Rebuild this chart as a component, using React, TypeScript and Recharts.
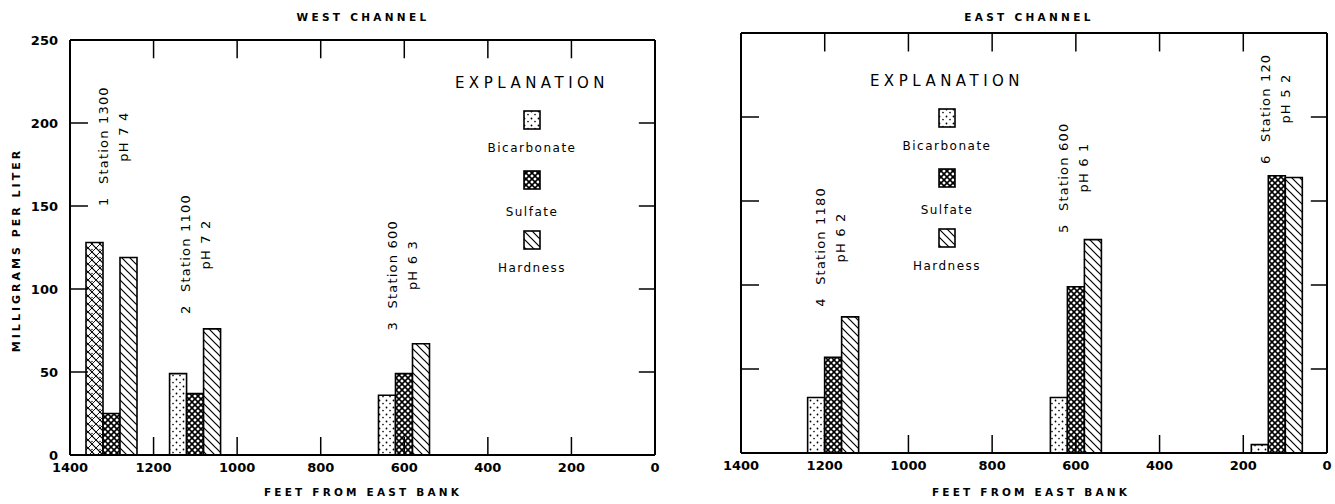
import React from "react";
import { BarChart, Bar, XAxis, YAxis, Cell, Legend, ReferenceDot, ReferenceLine } from "recharts";

// West channel samples (feet from east bank, mg/L)
const westStations = [1300, 1100, 600];
const westNumbers = ["1", "2", "3"];
const westPh = ["7 4", "7 2", "6 3"];
const westBicarbonate = [128, 49, 36];
const westSulfate = [25, 37, 49];
const westHardness = [119, 76, 67];

// East channel samples
const eastStations = [1180, 600, 120];
const eastNumbers = ["4", "5", "6"];
const eastPh = ["6 2", "6 1", "5 2"];
const eastBicarbonate = [33, 33, 5];
const eastSulfate = [57, 99, 165];
const eastHardness = [81, 127, 164];

const feetTicks = [1400, 1200, 1000, 800, 600, 400, 200, 0];
const mgTicks = [0, 50, 100, 150, 200, 250];
const innerFeetTicks = [1200, 1000, 800, 600, 400, 200];
const innerMgTicks = [50, 100, 150, 200];

// where the rotated station notes start (feet, mg/L)
const westNoteAt = [[1309, 150], [1113, 85], [617, 75]];
const eastNoteAt = [[1199, 87], [619, 131], [136, 172]];

// inward tick lengths in data units (~18px)
const TICK_FT = 43;
const TICK_MG = 11;

const FONT = "'DejaVu Sans', 'Liberation Sans', sans-serif";

const series = [
    { key: "bicarbonate", label: "Bicarbonate", pattern: "dots" },
    { key: "sulfate", label: "Sulfate", pattern: "cross" },
    { key: "hardness", label: "Hardness", pattern: "hatch" },
];

function Patterns({ id }: { id: string }) {
    return (
        <defs>
            <pattern id={`${id}-dots`} width="7" height="7" patternUnits="userSpaceOnUse">
                <rect width="7" height="7" fill="#fff" />
                <circle cx="1.5" cy="1.5" r="0.9" fill="#000" />
                <circle cx="5" cy="4.6" r="0.8" fill="#000" />
            </pattern>
            <pattern id={`${id}-cross`} width="6" height="6" patternUnits="userSpaceOnUse">
                <rect width="6" height="6" fill="#fff" />
                <path d="M0,0 L6,6 M6,0 L0,6" stroke="#000" strokeWidth="1.6" />
            </pattern>
            <pattern id={`${id}-hatch`} width="8" height="8" patternUnits="userSpaceOnUse">
                <rect width="8" height="8" fill="#fff" />
                <path d="M-2,-2 L10,10 M-2,6 L2,10 M6,-2 L10,2" stroke="#000" strokeWidth="1.2" />
            </pattern>
            <pattern id={`${id}-mixed`} width="8" height="8" patternUnits="userSpaceOnUse">
                <rect width="8" height="8" fill="#fff" />
                <path d="M-2,-2 L10,10 M-2,6 L2,10 M6,-2 L10,2" stroke="#000" strokeWidth="1.2" />
                <path d="M10,-2 L-2,10 M2,-2 L-2,2 M10,6 L6,10" stroke="#000" strokeWidth="0.9" />
                <circle cx="4" cy="1.5" r="0.7" fill="#000" />
            </pattern>
        </defs>
    );
}

function StationNote(props: any) {
    const { cx, cy, num, station, ph } = props;
    if (cx == null || cy == null) return null;
    const stationText = `Station ${station}`;
    const stationWidth = stationText.length * 7.9;
    return (
        <g transform={`translate(${cx},${cy}) rotate(-90)`} fill="#000" fontSize={13}>
            <text x={0} y={0}>{num}</text>
            <text x={22} y={0} letterSpacing={1.2}>{stationText}</text>
            <text x={22 + stationWidth / 2} y={20} textAnchor="middle" letterSpacing={1.2}>
                pH {ph}
            </text>
        </g>
    );
}

function Explanation({ id }: { id: string }) {
    return (
        <div style={{ width: 180, textAlign: "center", fontFamily: FONT, color: "#000" }}>
            <div style={{ fontSize: 15, letterSpacing: 4.5, lineHeight: "18px" }}>EXPLANATION</div>
            {series.map((s, i) => (
                <div key={s.key}>
                    <svg width={18} height={20} style={{ display: "block", margin: `${i === 0 ? 18 : i === 1 ? 14 : 10}px auto 0` }}>
                        <rect x={1} y={1} width={16} height={18} fill={`url(#${id}-${s.pattern})`} stroke="#000" strokeWidth={1.6} />
                    </svg>
                    <div style={{ fontSize: 12, letterSpacing: 1.5, lineHeight: "16px", marginTop: i === 1 ? 14 : 10 }}>
                        {s.label}
                    </div>
                </div>
            ))}
        </div>
    );
}

interface PanelProps {
    id: string;
    stations: number[];
    numbers: string[];
    ph: string[];
    bicarbonate: number[];
    sulfate: number[];
    hardness: number[];
    notes: number[][];
    left: number;
    width: number;
    margin: { top: number; right: number; bottom: number; left: number };
    yWidth: number;
    yLabels: boolean;
    legendLeft: number;
    legendTop: number;
}

function Panel(p: PanelProps) {
    const data = p.stations.map((x, i) => ({
        x,
        bicarbonate: p.bicarbonate[i],
        sulfate: p.sulfate[i],
        hardness: p.hardness[i],
    }));
    const axisLine = { stroke: "#000", strokeWidth: 2 };
    const tickLine = { stroke: "#000", strokeWidth: 1.5 };
    const tickText = { fontSize: 13, fill: "#000", fontWeight: "bold" };

    return (
        <div style={{ position: "absolute", left: p.left, top: 0, fontFamily: FONT }}>
            <BarChart width={p.width} height={504} data={data} margin={p.margin} barGap={0} barSize={17}>
                <Patterns id={p.id} />
                <XAxis
                    dataKey="x"
                    type="number"
                    domain={[0, 1400]}
                    reversed
                    ticks={feetTicks}
                    interval={0}
                    height={30}
                    tickSize={-18}
                    tickMargin={26}
                    axisLine={axisLine}
                    tickLine={tickLine}
                    tick={tickText}
                />
                <YAxis
                    type="number"
                    domain={[0, 250]}
                    ticks={mgTicks}
                    interval={0}
                    width={p.yWidth}
                    tickSize={0}
                    tickMargin={12}
                    axisLine={axisLine}
                    tickLine={false}
                    tick={p.yLabels ? tickText : false}
                />
                <YAxis
                    yAxisId="right"
                    orientation="right"
                    type="number"
                    domain={[0, 250]}
                    width={1}
                    mirror
                    axisLine={axisLine}
                    tickLine={false}
                    tick={false}
                />
                <ReferenceLine y={250} stroke="#000" strokeWidth={2} ifOverflow="visible" />
                {innerMgTicks.map((v) => (
                    <ReferenceLine
                        key={`l${v}`}
                        segment={[{ x: 1400, y: v }, { x: 1400 - TICK_FT, y: v }]}
                        stroke="#000"
                        strokeWidth={1.5}
                        ifOverflow="visible"
                    />
                ))}
                {innerMgTicks.map((v) => (
                    <ReferenceLine
                        key={`r${v}`}
                        segment={[{ x: 0, y: v }, { x: TICK_FT * 0.9, y: v }]}
                        stroke="#000"
                        strokeWidth={1.5}
                        ifOverflow="visible"
                    />
                ))}
                {innerFeetTicks.map((f) => (
                    <ReferenceLine
                        key={`t${f}`}
                        segment={[{ x: f, y: 250 }, { x: f, y: 250 - TICK_MG }]}
                        stroke="#000"
                        strokeWidth={1.5}
                        ifOverflow="visible"
                    />
                ))}
                <Legend
                    layout="vertical"
                    align="center"
                    verticalAlign="middle"
                    wrapperStyle={{ left: p.legendLeft, top: p.legendTop, width: 180 }}
                    content={() => <Explanation id={p.id} />}
                />
                {series.map((s) => (
                    <Bar
                        key={s.key}
                        dataKey={s.key}
                        name={s.label}
                        fill={`url(#${p.id}-${s.pattern})`}
                        stroke="#000"
                        strokeWidth={1.6}
                        isAnimationActive={false}
                    >
                        {data.map((_, i) => (
                            <Cell
                                key={i}
                                fill={
                                    p.id === "west" && s.key === "bicarbonate" && i === 0
                                        ? `url(#${p.id}-mixed)`
                                        : `url(#${p.id}-${s.pattern})`
                                }
                            />
                        ))}
                    </Bar>
                ))}
                {p.notes.map(([fx, fy], i) => (
                    <ReferenceDot
                        key={i}
                        x={fx}
                        y={fy}
                        r={0}
                        shape={(sp: any) => (
                            <StationNote
                                cx={sp.cx}
                                cy={sp.cy}
                                num={p.numbers[i]}
                                station={p.stations[i]}
                                ph={p.ph[i]}
                            />
                        )}
                    />
                ))}
            </BarChart>
        </div>
    );
}

const centered: React.CSSProperties = {
    position: "absolute",
    transform: "translate(-50%, -50%)",
    whiteSpace: "nowrap",
    fontFamily: FONT,
    color: "#000",
    fontWeight: "bold",
};

export default function App() {
    return (
        <div style={{ position: "absolute", left: 0, top: 0, width: 1335, height: 504, background: "#fff" }}>
            <Panel
                id="west"
                stations={westStations}
                numbers={westNumbers}
                ph={westPh}
                bicarbonate={westBicarbonate}
                sulfate={westSulfate}
                hardness={westHardness}
                notes={westNoteAt}
                left={0}
                width={665}
                margin={{ top: 40, right: 10, bottom: 19, left: 20 }}
                yWidth={50}
                yLabels
                legendLeft={442}
                legendTop={74}
            />
            <Panel
                id="east"
                stations={eastStations}
                numbers={eastNumbers}
                ph={eastPh}
                bicarbonate={eastBicarbonate}
                sulfate={eastSulfate}
                hardness={eastHardness}
                notes={eastNoteAt}
                left={690}
                width={645}
                margin={{ top: 33, right: 8, bottom: 21, left: 50 }}
                yWidth={1}
                yLabels={false}
                legendLeft={167}
                legendTop={72}
            />
            <div style={{ ...centered, left: 363, top: 17, fontSize: 10.5, letterSpacing: 3.3 }}>WEST CHANNEL</div>
            <div style={{ ...centered, left: 1029, top: 17, fontSize: 10.5, letterSpacing: 3.3 }}>EAST CHANNEL</div>
            <div style={{ ...centered, left: 363, top: 492, fontSize: 10.5, letterSpacing: 3.2 }}>FEET FROM EAST BANK</div>
            <div style={{ ...centered, left: 1031, top: 492, fontSize: 10.5, letterSpacing: 3.2 }}>FEET FROM EAST BANK</div>
            <div
                style={{
                    ...centered,
                    left: 16,
                    top: 250,
                    fontSize: 11,
                    letterSpacing: 3,
                    transform: "translate(-50%, -50%) rotate(-90deg)",
                }}
            >
                MILLIGRAMS PER LITER
            </div>
        </div>
    );
}
